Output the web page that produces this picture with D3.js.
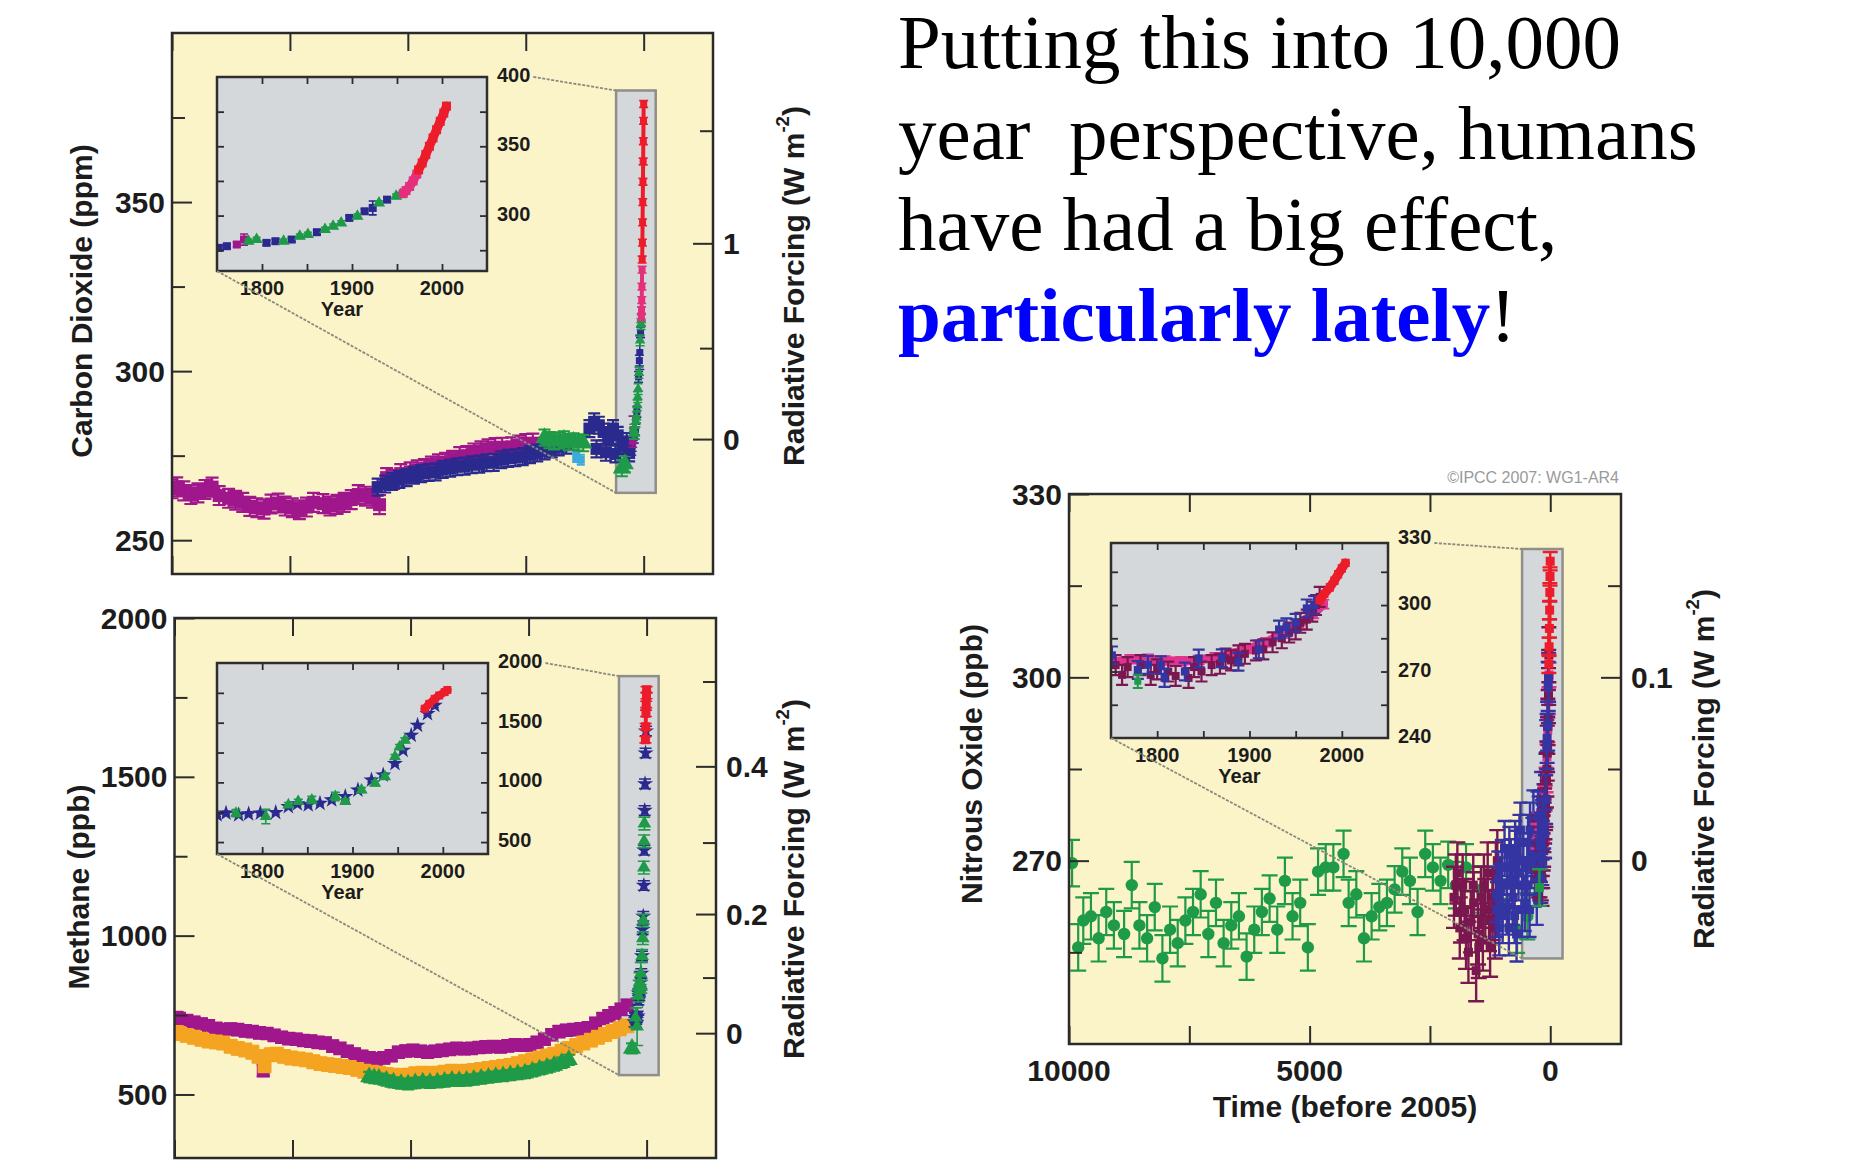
<!DOCTYPE html>
<html>
<head>
<meta charset="utf-8">
<script src="https://cdnjs.cloudflare.com/ajax/libs/d3/7.8.5/d3.min.js"></script>
<style>
  body { margin: 0; background: #fff; }
  svg { display: block; }
  text { font-family: 'Liberation Sans', Arial, sans-serif; font-weight: bold; fill: #1c1c1c; }
  .serif { font-family: 'Liberation Serif', 'Times New Roman', serif; font-weight: normal; fill: #000; white-space: pre; }
  .tick line { stroke: #2b2b2b; }
</style>
</head>
<body>
<svg id="chart"></svg>
<script>
// ---------- data (main panels: years before 2005, inset panels: calendar year) ----------
const timeTicks = [10000, 7500, 5000, 2500, 0];
const timeLabels = [10000, 5000, 0];
const insetYearTicks = [1800, 1850, 1900, 1950, 2000];
const insetYearLabels = [1800, 1900, 2000];

// carbon dioxide (ppm)
const co2Magenta = [
  [10000, 265.2], [9900, 265.8], [9750, 264.6], [9600, 263.5], [9450, 264.0], [9300, 265.0],
  [9150, 265.7], [9000, 263.2], [8800, 262.4], [8650, 261.8], [8500, 261.2], [8350, 260.0],
  [8200, 259.6], [8050, 259.2], [7900, 260.7], [7750, 261.0], [7600, 260.1], [7450, 259.6],
  [7300, 259.0], [7150, 259.8], [7000, 261.2], [6800, 260.8], [6650, 260.1], [6500, 260.6],
  [6350, 261.2], [6200, 262.0], [6050, 263.5], [5900, 263.0], [5750, 262.4], [5600, 260.5],
  [5450, 268.5], [5300, 268.0], [5150, 269.7], [4950, 270.2], [4800, 270.8], [4650, 271.2],
  [4500, 271.9], [4350, 272.6], [4200, 273.0], [4050, 273.6], [3900, 274.7], [3750, 275.0],
  [3600, 275.8], [3450, 276.4], [3300, 277.0], [3150, 277.4], [3000, 277.5], [2800, 277.6],
  [2650, 278.1], [2500, 278.6], [2350, 278.7]
];
const co2Blue = [
  [5640, 265.7], [5480, 266.6], [5333, 267.4], [5180, 268.0], [5025, 268.5], [4870, 269.2],
  [4718, 269.7], [4560, 270.0], [4410, 270.2], [4260, 270.9], [4102, 271.3], [3950, 271.7],
  [3795, 271.9], [3640, 272.3], [3487, 272.5], [3330, 272.9], [3179, 273.0], [3020, 273.8],
  [2872, 274.2], [2720, 274.4], [2564, 274.7], [2410, 275.3], [2256, 275.8], [2100, 276.4],
  [1949, 277.0], [1800, 277.6], [1641, 278.1], [1150, 283.0], [1050, 285.0], [1000, 277.0],
  [950, 284.0], [850, 282.0], [800, 276.0], [750, 280.5], [650, 283.0], [600, 275.5],
  [550, 281.0], [450, 278.0], [359, 279.2], [308, 275.8]
];
const co2Cyan = [[1430, 274.6], [1333, 273.8]];
const co2Green = [
  [2103, 280.3], [1997, 279.6], [1897, 279.2], [1795, 279.5], [1692, 279.8], [1590, 279.0],
  [1487, 279.2], [1385, 278.9], [1282, 278.7], [462, 271.3], [400, 272.5]
];
const co2InsetBlue = [
  [1752, 276.7], [1761, 277.9], [1805, 280.3], [1815, 281.5], [1833, 282.7], [1861, 288.0],
  [1897, 298.3], [1914, 303.1], [1923, 305.5, 5], [1939, 311.5]
];
const co2InsetPurple = [[1772, 279.1], [1780, 282.7, 4]];
const co2InsetGreen = [
  [1785, 281.5], [1794, 282.7], [1824, 281.5], [1842, 285.1], [1851, 286.3], [1870, 289.9],
  [1879, 292.3], [1888, 294.7], [1906, 299.5], [1930, 309.1], [1949, 313.9], [1954, 315.1]
];
const co2InsetPink = [[1957, 316.0], [1960, 318.0], [1964, 321.0], [1968, 325.0], [1972, 330.0]];
const co2InsetRed = [
  [1974, 333.0], [1978, 338.0], [1982, 344.0], [1986, 350.0], [1990, 356.0], [1994, 362.0],
  [1998, 368.0], [2002, 374.0], [2005, 379.0]
];
const co2LeftMajor = [250, 300, 350];
const co2LeftMinor = [275, 325, 375];
const co2Forcing = [[279.9, '0'], [306.8, ''], [337.8, '1'], [371.1, '']];
const co2InsetTicks = [275, 300, 325, 350, 375];
const co2InsetLabels = [300, 350, 400];

// methane (ppb)
const ch4Magenta = [
  [9950, 742], [9897, 739], [9740, 733], [9588, 727], [9430, 722], [9278, 716], [9120, 708],
  [8969, 704], [8810, 706], [8660, 704], [8500, 700], [8351, 698], [8200, 694], [8120, 575],
  [8041, 692], [7890, 686], [7732, 680], [7580, 676], [7423, 674], [7270, 670], [7113, 668],
  [6960, 664], [6804, 662], [6650, 652], [6495, 645], [6340, 636], [6186, 627], [6030, 620],
  [5876, 615], [5720, 612], [5567, 615], [5410, 622], [5258, 633], [5100, 637], [4948, 639],
  [4790, 636], [4639, 633], [4480, 636], [4330, 639], [4170, 642], [4021, 645], [3860, 644],
  [3711, 645], [3550, 648], [3402, 650], [3250, 651], [3093, 650], [2940, 653], [2784, 656],
  [2630, 655], [2474, 656], [2320, 664], [2165, 674], [2010, 688], [1856, 698], [1700, 702],
  [1546, 704], [1390, 707], [1237, 710], [1080, 724], [928, 739], [800, 748], [670, 757],
  [540, 768], [412, 781]
];
const ch4Orange = [
  [9950, 695], [9897, 692], [9740, 686], [9588, 680], [9430, 674], [9278, 668], [9120, 665],
  [8969, 662], [8810, 652], [8660, 645], [8500, 640], [8351, 633], [8220, 620], [8093, 590],
  [7960, 625], [7835, 627], [7680, 620], [7526, 615], [7370, 612], [7216, 609], [7060, 603],
  [6907, 597], [6750, 594], [6598, 591], [6440, 588], [6289, 585], [6130, 579], [5979, 573],
  [5820, 570], [5670, 567], [5510, 563], [5361, 561], [5200, 560], [5052, 561], [4900, 565],
  [4742, 567], [4590, 566], [4433, 567], [4280, 570], [4124, 573], [3970, 572], [3814, 573],
  [3660, 576], [3505, 579], [3350, 582], [3196, 585], [3040, 588], [2887, 591], [2730, 597],
  [2577, 603], [2420, 609], [2268, 615], [2110, 621], [1959, 627], [1800, 636], [1649, 645],
  [1490, 654], [1340, 662], [1180, 671], [1031, 680], [880, 689], [722, 698], [570, 707],
  [412, 716]
];
const ch4Green = [
  [5876, 555], [5770, 552], [5670, 550], [5510, 544], [5361, 538], [5200, 534], [5052, 532],
  [4900, 536], [4742, 538], [4590, 537], [4433, 538], [4280, 541], [4124, 544], [3970, 543],
  [3814, 544], [3660, 547], [3505, 550], [3350, 553], [3196, 556], [3040, 558], [2887, 561],
  [2730, 564], [2577, 567], [2420, 573], [2268, 579], [2110, 585], [1959, 591], [1800, 600],
  [1649, 609], [309, 645]
];
const ch4InsetBlue = [
  [1750, 728], [1760, 742], [1774, 728], [1785, 736], [1798, 742], [1815, 747], [1829, 797],
  [1839, 819], [1851, 811], [1864, 825], [1877, 853], [1892, 881], [1906, 936], [1921, 1019],
  [1934, 1061], [1947, 1158], [1956, 1269], [1965, 1394], [1972, 1478], [1983, 1575], [1991, 1644]
];
const ch4InsetGreen = [
  [1771, 742, 30], [1804, 714, 60], [1829, 811], [1840, 839], [1855, 853, 30], [1881, 881, 35],
  [1892, 839], [1910, 936], [1925, 992], [1936, 1047], [1947, 1214], [1952, 1297], [1958, 1353]
];
const ch4InsetRed = [[1980, 1617], [1985, 1658], [1991, 1700], [1996, 1728], [2002, 1756], [2005, 1774]];
const ch4LeftMajor = [500, 1000, 1500, 2000];
const ch4LeftMinor = [750, 1250, 1750];
const ch4Forcing = [[693, '0'], [868, ''], [1068, '0.2'], [1293, ''], [1533, '0.4'], [1800, '']];
const ch4InsetTicks = [500, 750, 1000, 1250, 1500, 1750];
const ch4InsetLabels = [500, 1000, 1500, 2000];

// nitrous oxide (ppb)
const n2oGreen = [
  [9936, 269.6], [9809, 255.8], [9703, 260.2], [9544, 260.9], [9385, 257.3], [9226, 261.6],
  [9067, 259.4], [8855, 258.0], [8696, 266.0], [8537, 259.4], [8377, 257.3], [8218, 262.4],
  [8059, 254.0], [7900, 258.7], [7741, 256.5], [7582, 260.2], [7423, 261.6], [7264, 264.5],
  [7105, 258.0], [6946, 263.1], [6787, 256.5], [6628, 259.4], [6469, 260.9], [6310, 254.3],
  [6151, 258.7], [5992, 261.6], [5832, 263.8], [5673, 258.7], [5514, 266.7], [5355, 260.9],
  [5196, 263.1], [5037, 255.8], [4825, 268.2], [4666, 268.9], [4507, 268.9], [4295, 271.1],
  [4189, 263.1], [4030, 264.5], [3871, 257.3], [3712, 260.9], [3553, 262.4], [3393, 263.1],
  [3234, 265.3], [3075, 268.2], [2916, 266.7], [2757, 261.6], [2598, 271.1], [2439, 268.9],
  [2280, 266.7], [2121, 269.3], [1962, 266.0], [1750, 268.9], [1432, 265.3], [1007, 263.1],
  [689, 258.7], [477, 260.9]
];
const n2oMaroon = [
  [2000, 264.0], [1962, 266.0], [1930, 268.0], [1880, 259.0], [1856, 261.6], [1820, 266.0],
  [1780, 262.0], [1750, 257.3], [1700, 255.0], [1650, 260.0], [1600, 266.0], [1591, 263.1],
  [1540, 252.0], [1500, 258.0], [1485, 255.8], [1440, 264.0], [1400, 257.0], [1379, 266.0],
  [1350, 262.0], [1300, 268.0], [1273, 260.2], [1250, 256.0], [1200, 262.0], [1190, 264.0],
  [1150, 259.0], [1130, 268.0], [1100, 270.0]
];
const n2oBlue = [
  [1113, 264.5], [1110, 262.0], [1080, 267.0], [1060, 259.0], [1040, 265.0], [1007, 268.9],
  [990, 261.0], [950, 272.0], [901, 262.4], [900, 266.0], [860, 259.0], [850, 271.0],
  [820, 269.0], [795, 266.7], [780, 264.0], [740, 261.0], [730, 272.0], [700, 258.0],
  [689, 270.4], [660, 268.0], [640, 273.0], [620, 275.0], [590, 262.0], [583, 266.0],
  [560, 270.0], [530, 263.0], [500, 266.0], [477, 268.9], [460, 273.0], [430, 262.0],
  [420, 275.0], [390, 270.0], [371, 272.5], [350, 277.0], [320, 267.0], [300, 271.0],
  [280, 264.0], [265, 273.3], [240, 276.0], [210, 277.0], [190, 280.0], [159, 274.7],
  [140, 278.0], [100, 283.0]
];
const n2oInsetPink = [
  [1750, 274.0], [1771, 275.5], [1790, 275.8], [1808, 275.0], [1826, 274.6], [1845, 275.2],
  [1863, 276.4], [1881, 278.0], [1899, 280.2], [1918, 283.2], [1936, 287.0], [1954, 291.4],
  [1969, 296.0], [1980, 300.4]
];
const n2oInsetMaroon = [
  [1755, 272.9], [1762, 268.5], [1768, 272.0], [1782, 272.9], [1793, 268.5], [1800, 271.0],
  [1812, 270.0], [1820, 268.0], [1834, 267.1], [1840, 272.0], [1848, 270.0], [1859, 272.9],
  [1868, 273.5], [1874, 275.9], [1880, 275.0], [1888, 277.3], [1895, 278.0], [1907, 279.5],
  [1915, 280.0], [1925, 283.2], [1935, 285.0], [1943, 287.6], [1950, 289.0], [1955, 292.0],
  [1962, 293.4], [1968, 297.0], [1972, 300.0], [1976, 303.7]
];
const n2oInsetBlue = [
  [1751, 277.3], [1779, 270.7], [1790, 273.0], [1804, 272.9], [1808, 267.1], [1830, 270.0],
  [1845, 275.9], [1870, 276.0], [1888, 274.4], [1910, 280.0], [1932, 289.0], [1940, 290.0],
  [1950, 292.0], [1962, 298.5], [1970, 300.0]
];
const n2oInsetGreen = [[1779, 265.6]];
const n2oInsetRed = [[1976, 302.2], [1981, 305.0], [1987, 308.0], [1992, 311.0], [1996, 313.9], [2000, 316.5], [2004, 319.0]];
const n2oLeftMajor = [270, 300, 330];
const n2oLeftMinor = [255, 285, 315];
const n2oForcing = [[270, '0'], [285, ''], [300, '0.1'], [315, '']];
const n2oInsetTicks = [255, 270, 285, 300, 315];
const n2oInsetLabels = [240, 270, 300, 330];

const textLines = [
  [{ t: 'Putting this into 10,000' }],
  [{ t: 'year  perspective, humans' }],
  [{ t: 'have had a big effect,' }],
  [{ t: 'particularly lately', hi: true }, { t: '!' }]
];

// ---------- layout ----------
const timeDomain = [10000, -1470];
const insetYears = [1750, 2050];
const stripYears = [585, -255];
const col = {
  bg: '#fcf4c9', grey: '#d5d8db', magenta: '#a0168c', navy: '#29298e', green: '#1f9a48',
  cyan: '#3caadc', red: '#ec1c2a', pink: '#e4307c', orange: '#f4a420', maroon: '#7a1650',
  hotpink: '#e0358e', blue: '#3434a2'
};

const svg = d3.select('#chart').attr('width', 1861).attr('height', 1175);
const defs = svg.append('defs');

const shapes = { square: d3.symbolSquare, circle: d3.symbolCircle, triangle: d3.symbolTriangle, star: d3.symbolStar };

function drawPoints(g, data, x, y, st) {
  const grp = g.append('g').attr('stroke', st.color).attr('fill', st.color).attr('stroke-width', st.lw || 1.6);
  const err = d => (d[2] != null ? d[2] : st.err || 0);
  grp.selectAll('path.e').data(data.filter(d => err(d) > 0)).join('path').attr('class', 'e')
    .attr('fill', 'none')
    .attr('d', d => {
      const cx = x(d[0]), y0 = y(d[1] - err(d)), y1 = y(d[1] + err(d)), c = st.cap / 2;
      return `M${cx},${y0}V${y1}M${cx - c},${y0}H${cx + c}M${cx - c},${y1}H${cx + c}`;
    });
  if (st.line) {
    grp.append('path').datum(data).attr('fill', 'none').attr('stroke-width', st.line)
      .attr('stroke-linecap', 'round').attr('stroke-linejoin', 'round')
      .attr('d', d3.line().x(d => x(d[0])).y(d => y(d[1])));
  }
  const sym = d3.symbol().type(shapes[st.shape || 'square']).size(st.size * st.size);
  grp.selectAll('path.m').data(data).join('path').attr('class', 'm').attr('stroke', 'none')
    .attr('transform', d => `translate(${x(d[0])},${y(d[1])})`).attr('d', sym);
}

function inwardAxis(g, axis, tx, ty, sw) {
  const a = g.append('g').attr('transform', `translate(${tx},${ty})`).call(axis);
  a.select('.domain').remove();
  a.selectAll('.tick line').attr('stroke-width', sw);
  a.selectAll('.tick text').remove();
  return a;
}

function rotatedTitle(g, cx, cy, parts, size) {
  const t = g.append('text').attr('transform', `translate(${cx},${cy}) rotate(-90)`)
    .attr('text-anchor', 'middle').attr('dominant-baseline', 'central').attr('font-size', size);
  parts.forEach(p => {
    const s = t.append('tspan').text(p.t);
    if (p.sup) s.attr('baseline-shift', 'super').attr('font-size', size * 0.62);
  });
}

function drawPanel(p) {
  const b = p.box, ib = p.inset;
  const g = svg.append('g');
  const x = d3.scaleLinear().domain(timeDomain).range([b.left, b.right]);
  const y = d3.scaleLinear().domain(p.yDomain).range([b.bottom, b.top]);
  const ix = d3.scaleLinear().domain(insetYears).range([ib.left, ib.right]);
  const iy = d3.scaleLinear().domain(p.insetDomain).range([ib.bottom, ib.top]);

  defs.append('clipPath').attr('id', p.id + 'c').append('rect')
    .attr('x', b.left).attr('y', b.top).attr('width', b.right - b.left).attr('height', b.bottom - b.top);
  defs.append('clipPath').attr('id', p.id + 'i').append('rect')
    .attr('x', ib.left).attr('y', ib.top).attr('width', ib.right - ib.left).attr('height', ib.bottom - ib.top);

  g.append('rect').attr('x', b.left).attr('y', b.top).attr('width', b.right - b.left)
    .attr('height', b.bottom - b.top).attr('fill', col.bg);

  // zoomed strip of the last centuries
  const sx = x(stripYears[0]), sw = x(stripYears[1]) - sx;
  const sy = y(p.stripRange[1]), sh = y(p.stripRange[0]) - sy;
  g.append('rect').attr('x', sx).attr('y', sy).attr('width', sw).attr('height', sh)
    .attr('fill', col.grey).attr('stroke', '#8e8e8a').attr('stroke-width', 2.5);

  // main data
  const dg = g.append('g').attr('clip-path', `url(#${p.id}c)`);
  p.mainSeries.forEach(s => drawPoints(dg, s.data, x, y, s));
  p.insetSeries.forEach(s => {
    const shifted = s.data.map(d => [2005 - d[0], d[1], d[2]]);
    drawPoints(dg, shifted, x, y, Object.assign({}, s, p.spikeStyle, { line: s.line ? 4 : 0 }));
  });

  // inset
  g.append('rect').attr('x', ib.left).attr('y', ib.top).attr('width', ib.right - ib.left)
    .attr('height', ib.bottom - ib.top).attr('fill', col.grey);
  const ig = g.append('g').attr('clip-path', `url(#${p.id}i)`);
  p.insetSeries.forEach(s => drawPoints(ig, s.data, ix, iy, s));

  const isz = -7;
  inwardAxis(g, d3.axisLeft(iy).tickValues(p.insetTicks).tickSize(isz), ib.left, 0, 1.8);
  inwardAxis(g, d3.axisRight(iy).tickValues(p.insetTicks).tickSize(isz), ib.right, 0, 1.8);
  inwardAxis(g, d3.axisTop(ix).tickValues(insetYearTicks).tickSize(isz), 0, ib.top, 1.8);
  inwardAxis(g, d3.axisBottom(ix).tickValues(insetYearTicks).tickSize(isz), 0, ib.bottom, 1.8);
  g.append('rect').attr('x', ib.left).attr('y', ib.top).attr('width', ib.right - ib.left)
    .attr('height', ib.bottom - ib.top).attr('fill', 'none').attr('stroke', '#2e2e2e').attr('stroke-width', 2.5);

  let topLabelEnd = ib.right;
  const topLabel = p.insetLabels[p.insetLabels.length - 1];
  g.selectAll('text.il').data(p.insetLabels).join('text').attr('class', 'il')
    .attr('x', ib.right + 10).attr('y', d => iy(d) - 2)
    .attr('dominant-baseline', 'central').attr('font-size', 20).text(d => d)
    .each(function (d) {
      if (d === topLabel) topLabelEnd = ib.right + 10 + this.getComputedTextLength();
    });
  g.selectAll('text.iy').data(insetYearLabels).join('text').attr('class', 'iy')
    .attr('x', d => ix(d)).attr('y', ib.bottom + 17).attr('text-anchor', 'middle')
    .attr('dominant-baseline', 'central').attr('font-size', 20).text(d => d);
  g.append('text').attr('x', ix(1900) - 10).attr('y', ib.bottom + 38).attr('text-anchor', 'middle')
    .attr('dominant-baseline', 'central').attr('font-size', 20).text('Year');

  // connector lines
  const conn = g.append('g').attr('stroke', '#8a8a7c').attr('stroke-width', 1.8)
    .attr('stroke-dasharray', '3,1.5').attr('fill', 'none');
  conn.append('line').attr('x1', topLabelEnd + 3).attr('y1', ib.top).attr('x2', sx).attr('y2', sy);
  conn.append('line').attr('x1', ib.left).attr('y1', ib.bottom).attr('x2', sx).attr('y2', sy + sh);

  // main frame ticks
  inwardAxis(g, d3.axisLeft(y).tickValues(p.leftMajor).tickSize(-20), b.left, 0, 2);
  inwardAxis(g, d3.axisLeft(y).tickValues(p.leftMinor).tickSize(-13), b.left, 0, 2);
  const fMajor = p.forcing.filter(d => d[1] !== '').map(d => d[0]);
  const fMinor = p.forcing.filter(d => d[1] === '').map(d => d[0]);
  inwardAxis(g, d3.axisRight(y).tickValues(fMajor).tickSize(-20), b.right, 0, 2);
  inwardAxis(g, d3.axisRight(y).tickValues(fMinor).tickSize(-13), b.right, 0, 2);
  inwardAxis(g, d3.axisTop(x).tickValues(timeTicks).tickSize(-18), 0, b.top, 2);
  inwardAxis(g, d3.axisBottom(x).tickValues(timeTicks).tickSize(-18), 0, b.bottom, 2);
  g.append('rect').attr('x', b.left).attr('y', b.top).attr('width', b.right - b.left)
    .attr('height', b.bottom - b.top).attr('fill', 'none').attr('stroke', '#2a2a2a').attr('stroke-width', 2.5);

  // labels
  g.selectAll('text.yl').data(p.leftMajor).join('text').attr('class', 'yl')
    .attr('x', b.left - 7).attr('y', d => y(d)).attr('text-anchor', 'end')
    .attr('dominant-baseline', 'central').attr('font-size', 30).text(d => d);
  g.selectAll('text.fl').data(p.forcing.filter(d => d[1] !== '')).join('text').attr('class', 'fl')
    .attr('x', b.right + 10).attr('y', d => y(d[0])).attr('dominant-baseline', 'central')
    .attr('font-size', 30).text(d => d[1]);
  rotatedTitle(g, p.leftTitle.x, p.leftTitle.y, [{ t: p.leftTitle.t }], 30);
  rotatedTitle(g, p.rightTitle.x, p.rightTitle.y,
    [{ t: 'Radiative Forcing (W m' }, { t: '-2', sup: true }, { t: ')' }], 30);

  if (p.timeAxisLabels) {
    g.selectAll('text.xl').data(timeLabels).join('text').attr('class', 'xl')
      .attr('x', d => x(d)).attr('y', b.bottom + 26).attr('text-anchor', 'middle')
      .attr('dominant-baseline', 'central').attr('font-size', 30).text(d => d);
    g.append('text').attr('x', (x(10000) + x(-1470)) / 2).attr('y', b.bottom + 62)
      .attr('text-anchor', 'middle').attr('dominant-baseline', 'central').attr('font-size', 30)
      .text('Time (before 2005)');
  }
}

const co2Panel = {
  id: 'co2', box: { left: 172, right: 713, top: 33, bottom: 574 }, yDomain: [240, 400],
  inset: { left: 217, right: 487, top: 77, bottom: 271 }, insetDomain: [260, 400],
  stripRange: [264, 383],
  leftMajor: co2LeftMajor, leftMinor: co2LeftMinor, forcing: co2Forcing,
  insetTicks: co2InsetTicks, insetLabels: co2InsetLabels,
  leftTitle: { t: 'Carbon Dioxide (ppm)', x: 81, y: 301 },
  rightTitle: { x: 793, y: 286 },
  spikeStyle: { size: 7, cap: 9 },
  mainSeries: [
    { data: co2Magenta, color: col.magenta, size: 13, err: 2.8, cap: 13, lw: 2.2 },
    { data: co2Blue, color: col.navy, size: 12, err: 2.5, cap: 12, lw: 2.2 },
    { data: co2Cyan, color: col.cyan, size: 8, err: 1.5, cap: 8, lw: 2 },
    { data: co2Green, color: col.green, size: 12, err: 2.4, cap: 12, lw: 2, shape: 'triangle' }
  ],
  insetSeries: [
    { data: co2InsetBlue, color: col.navy, size: 8, err: 1.6, cap: 8 },
    { data: co2InsetPurple, color: col.magenta, size: 8, err: 1.6, cap: 8 },
    { data: co2InsetGreen, color: col.green, size: 8, err: 1.6, cap: 8, shape: 'triangle' },
    { data: co2InsetPink, color: col.pink, size: 9, err: 1, cap: 8, line: 9 },
    { data: co2InsetRed, color: col.red, size: 9, err: 1, cap: 8, line: 9 }
  ]
};

const ch4Panel = {
  id: 'ch4', box: { left: 174.5, right: 716, top: 618, bottom: 1158 }, yDomain: [300, 2000],
  inset: { left: 217, right: 488, top: 663, bottom: 854 }, insetDomain: [400, 2000],
  stripRange: [561, 1817],
  leftMajor: ch4LeftMajor, leftMinor: ch4LeftMinor, forcing: ch4Forcing,
  insetTicks: ch4InsetTicks, insetLabels: ch4InsetLabels,
  leftTitle: { t: 'Methane (ppb)', x: 78, y: 887 },
  rightTitle: { x: 793, y: 879 },
  spikeStyle: { size: 9, cap: 12 },
  mainSeries: [
    { data: ch4Magenta, color: col.magenta, size: 13, err: 18, cap: 13, lw: 2.2 },
    { data: ch4Orange, color: col.orange, size: 14, err: 20, cap: 13, lw: 2.2 },
    { data: ch4Green, color: col.green, size: 12, err: 16, cap: 12, lw: 2.2, shape: 'triangle' }
  ],
  insetSeries: [
    { data: ch4InsetBlue, color: col.navy, size: 9, err: 15, cap: 8, shape: 'star' },
    { data: ch4InsetGreen, color: col.green, size: 8, err: 20, cap: 9, shape: 'triangle' },
    { data: ch4InsetRed, color: col.red, size: 8, err: 10, cap: 8, line: 8 }
  ]
};

const n2oPanel = {
  id: 'n2o', box: { left: 1069, right: 1621, top: 494, bottom: 1044 }, yDomain: [240, 330],
  inset: { left: 1111, right: 1388, top: 543, bottom: 738 }, insetDomain: [240, 328],
  stripRange: [254, 321],
  leftMajor: n2oLeftMajor, leftMinor: n2oLeftMinor, forcing: n2oForcing,
  insetTicks: n2oInsetTicks, insetLabels: n2oInsetLabels,
  leftTitle: { t: 'Nitrous Oxide (ppb)', x: 971, y: 764 },
  rightTitle: { x: 1703, y: 769 },
  spikeStyle: { size: 9, cap: 15, lw: 2.4 },
  timeAxisLabels: true,
  mainSeries: [
    { data: n2oGreen, color: col.green, size: 11, err: 3.8, cap: 16, lw: 2.2, shape: 'circle' },
    { data: n2oMaroon, color: col.maroon, size: 9, err: 5, cap: 16, lw: 2.4 },
    { data: n2oBlue, color: col.blue, size: 9, err: 4.5, cap: 14, lw: 2.4 }
  ],
  insetSeries: [
    { data: n2oInsetPink, color: col.hotpink, size: 9, err: 2, cap: 12, line: 9 },
    { data: n2oInsetMaroon, color: col.maroon, size: 8, err: 4.5, cap: 12, lw: 2.2 },
    { data: n2oInsetBlue, color: col.blue, size: 8, err: 4, cap: 12, lw: 2.2 },
    { data: n2oInsetGreen, color: col.green, size: 7, err: 3, cap: 10, lw: 2 },
    { data: n2oInsetRed, color: col.red, size: 8, err: 1.5, cap: 8, line: 9 }
  ]
};

drawPanel(co2Panel);
drawPanel(ch4Panel);
drawPanel(n2oPanel);

// copyright tag
svg.append('text').attr('x', 1619).attr('y', 483).attr('text-anchor', 'end')
  .attr('font-size', 16).style('font-weight', 'normal').style('fill', '#9a9a9a')
  .text('©IPCC 2007: WG1-AR4');

// statement on the right
const para = svg.append('g');
textLines.forEach((line, i) => {
  const t = para.append('text').attr('class', 'serif').attr('x', 898).attr('y', 68 + i * 91)
    .attr('font-size', 77);
  line.forEach(seg => {
    const s = t.append('tspan').text(seg.t);
    if (seg.hi) s.style('font-weight', 'bold').style('fill', '#0000ff');
  });
});
</script>
</body>
</html>
